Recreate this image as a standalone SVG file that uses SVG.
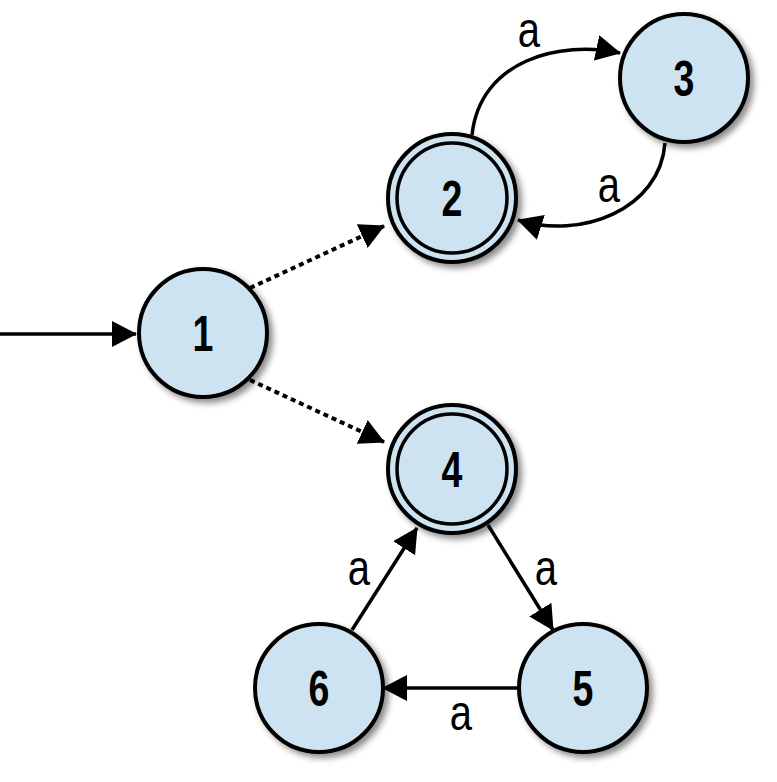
<svg xmlns="http://www.w3.org/2000/svg" width="777" height="782" viewBox="0 0 777 782">
<style>
.st{fill:#cde3f1;stroke:#000;stroke-width:4}
.in{fill:none;stroke:#000;stroke-width:3.5}
.nl{font-family:"Liberation Sans",Arial,sans-serif;font-weight:bold;font-size:50px;text-anchor:middle;fill:#000}
.el{font-family:"Liberation Sans",Arial,sans-serif;font-size:50px;text-anchor:middle;fill:#000}
.e{fill:none;stroke:#000;stroke-width:3.5;marker-end:url(#ah)}
.d{stroke-dasharray:5 4;stroke-width:4}
</style>
<defs>
<marker id="ah" viewBox="0 0 25 26" refX="24" refY="13" markerWidth="25" markerHeight="26" markerUnits="userSpaceOnUse" orient="auto">
<path d="M0,0 L25,13 L0,26 z" fill="#000"/>
</marker>
<filter id="sh" x="-20%" y="-20%" width="150%" height="150%">
<feDropShadow dx="4" dy="4" stdDeviation="3" flood-color="#000" flood-opacity="0.45"/>
</filter>
</defs>
<g id="connectors">
<path class="e" d="M0,334 L136,334"/>
<path class="e d" d="M250,288 L384,226"/>
<path class="e d" d="M250,380 L384,442"/>
<path class="e" d="M472,135 C480,60 560,40 620,53"/>
<path class="e" d="M665,143 C660,210 580,240 518,220"/>
<path class="e" d="M352,630 L417,528"/>
<path class="e" d="M488,525 L553,630"/>
<path class="e" d="M518,688 L383,688"/>
<text class="el" transform="translate(529,47) scale(0.8,1)">a</text>
<text class="el" transform="translate(609,202) scale(0.8,1)">a</text>
<text class="el" transform="translate(359,585) scale(0.8,1)">a</text>
<text class="el" transform="translate(546,585) scale(0.8,1)">a</text>
<text class="el" transform="translate(461,730) scale(0.8,1)">a</text>
</g>
<g id="n1"><circle class="st" cx="203" cy="333" r="64" filter="url(#sh)"/><text class="nl" transform="translate(203,351) scale(0.75,1)">1</text></g>
<g id="n2"><circle class="st" cx="452" cy="198" r="64" filter="url(#sh)"/><circle class="in" cx="452" cy="198" r="55"/><text class="nl" transform="translate(452,216) scale(0.75,1)">2</text></g>
<g id="n3"><circle class="st" cx="684" cy="78" r="64" filter="url(#sh)"/><text class="nl" transform="translate(684,96) scale(0.75,1)">3</text></g>
<g id="n4"><circle class="st" cx="452" cy="469" r="64" filter="url(#sh)"/><circle class="in" cx="452" cy="469" r="55"/><text class="nl" transform="translate(452,487) scale(0.75,1)">4</text></g>
<g id="n5"><circle class="st" cx="583" cy="688" r="64" filter="url(#sh)"/><text class="nl" transform="translate(583,706) scale(0.75,1)">5</text></g>
<g id="n6"><circle class="st" cx="319" cy="688" r="64" filter="url(#sh)"/><text class="nl" transform="translate(319,706) scale(0.75,1)">6</text></g>
</svg>
